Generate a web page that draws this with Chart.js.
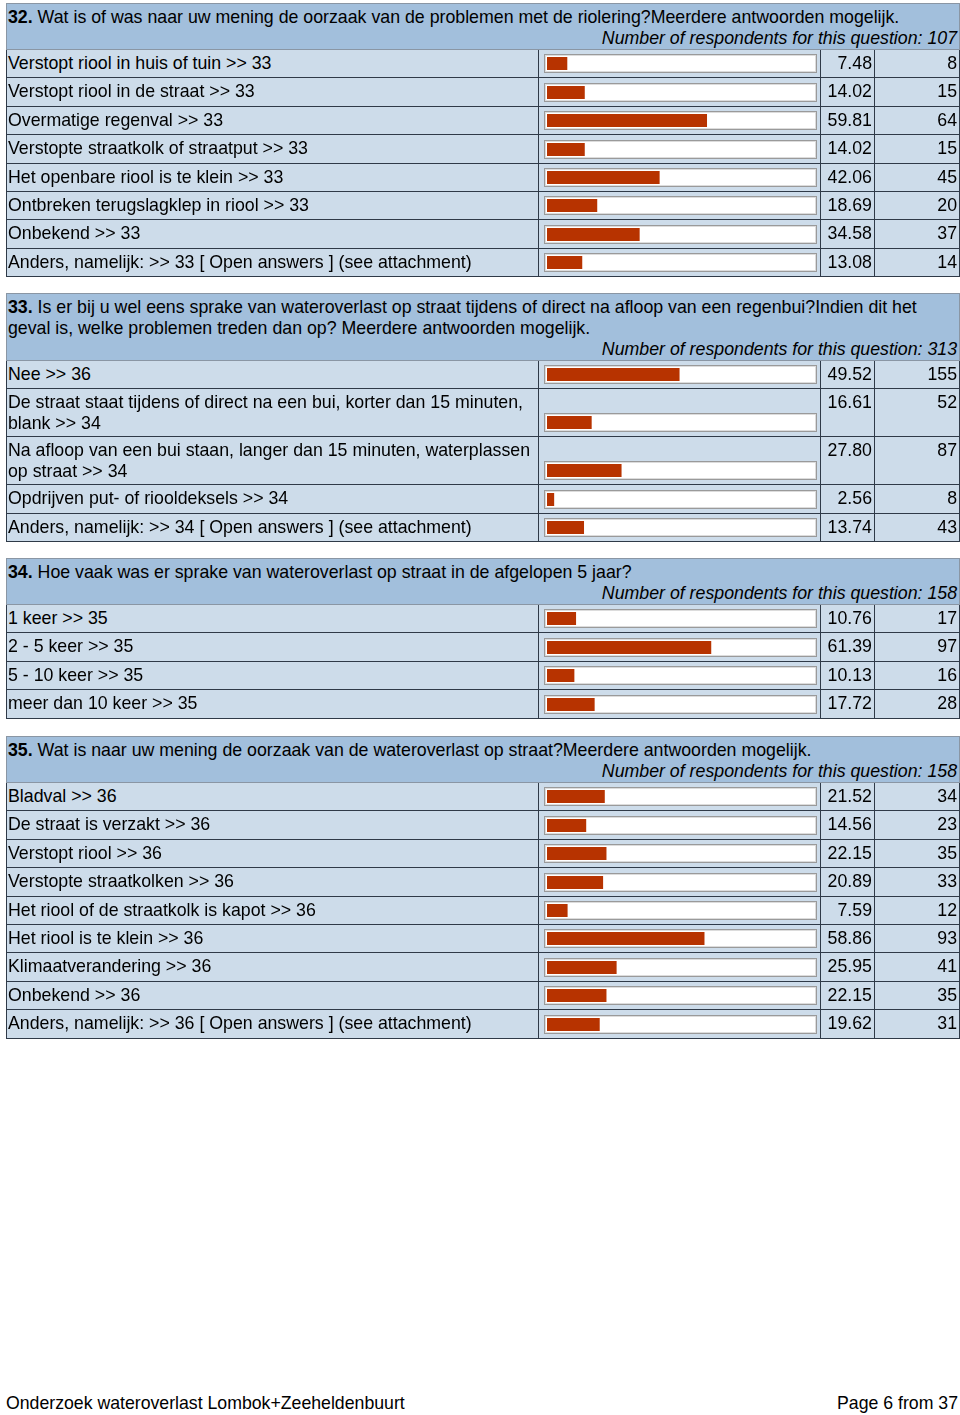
<!DOCTYPE html>
<html>
<head>
<meta charset="utf-8">
<script src="https://cdn.jsdelivr.net/npm/chart.js@4.4.1/dist/chart.umd.min.js"></script>
<style>
body{margin:0;width:960px;height:1415px;background:#fff;font-family:"Liberation Sans",Arial,sans-serif;font-size:17.75px;color:#000;position:relative;overflow:hidden}
table.q{position:absolute;left:6px;width:953px;border-collapse:collapse;table-layout:fixed}
table.q td{border:1px solid #2f3a48;padding:0 2px 0 1px;line-height:21px;vertical-align:top;background:#cddcea}
table.q td.head{background:#a2bfdc;padding:3px 2px 0 1px;border-color:#8a96a4}
.resp{text-align:right;font-style:italic}
td.lab{padding-top:3px !important}
td.num{text-align:right;padding-top:3px !important}
td.barc{vertical-align:bottom !important;padding:0 0 4px 5px !important}
.box{width:267px;height:13px;border:1px solid #9a9a9a;box-shadow:inset 0 0 0 1px #dcdcdc;padding:2px;background:#fff}
.foot{position:absolute;top:1393px;font-family:"Liberation Sans Narrow","Liberation Sans",Arial,sans-serif;font-size:17.7px}
</style>
</head>
<body>
<script>
// ====== data ======
const q32Title = "Wat is of was naar uw mening de oorzaak van de problemen met de riolering?Meerdere antwoorden mogelijk.";
const q32N = 107;
const q32Labels = ["Verstopt riool in huis of tuin >> 33","Verstopt riool in de straat >> 33","Overmatige regenval >> 33","Verstopte straatkolk of straatput >> 33","Het openbare riool is te klein >> 33","Ontbreken terugslagklep in riool >> 33","Onbekend >> 33","Anders, namelijk: >> 33 [ Open answers ] (see attachment)"];
const q32Pct = [7.48,14.02,59.81,14.02,42.06,18.69,34.58,13.08];
const q32Count = [8,15,64,15,45,20,37,14];

const q33Title = "Is er bij u wel eens sprake van wateroverlast op straat tijdens of direct na afloop van een regenbui?Indien dit het geval is, welke problemen treden dan op? Meerdere antwoorden mogelijk.";
const q33N = 313;
const q33Labels = ["Nee >> 36","De straat staat tijdens of direct na een bui, korter dan 15 minuten, blank >> 34","Na afloop van een bui staan, langer dan 15 minuten, waterplassen op straat >> 34","Opdrijven put- of riooldeksels >> 34","Anders, namelijk: >> 34 [ Open answers ] (see attachment)"];
const q33Pct = [49.52,16.61,27.80,2.56,13.74];
const q33Count = [155,52,87,8,43];

const q34Title = "Hoe vaak was er sprake van wateroverlast op straat in de afgelopen 5 jaar?";
const q34N = 158;
const q34Labels = ["1 keer >> 35","2 - 5 keer >> 35","5 - 10 keer >> 35","meer dan 10 keer >> 35"];
const q34Pct = [10.76,61.39,10.13,17.72];
const q34Count = [17,97,16,28];

const q35Title = "Wat is naar uw mening de oorzaak van de wateroverlast op straat?Meerdere antwoorden mogelijk.";
const q35N = 158;
const q35Labels = ["Bladval >> 36","De straat is verzakt >> 36","Verstopt riool >> 36","Verstopte straatkolken >> 36","Het riool of de straatkolk is kapot >> 36","Het riool is te klein >> 36","Klimaatverandering >> 36","Onbekend >> 36","Anders, namelijk: >> 36 [ Open answers ] (see attachment)"];
const q35Pct = [21.52,14.56,22.15,20.89,7.59,58.86,25.95,22.15,19.62];
const q35Count = [34,23,35,33,12,93,41,35,31];

// ====== build ======
function makeBar(canvas, value){
  new Chart(canvas, {
    type: "bar",
    data: { labels: [""], datasets: [{ data: [value], backgroundColor: "#b73300", barPercentage: 1, categoryPercentage: 1 }] },
    options: {
      indexAxis: "y",
      responsive: false,
      animation: false,
      layout: { padding: 0 },
      plugins: { legend: { display: false }, tooltip: { enabled: false } },
      scales: {
        x: { display: false, min: 0, max: 100 },
        y: { display: false }
      }
    }
  });
}

function addQuestion(top, num, title, n, labels, pct, count, tall){
  const t = document.createElement("table");
  t.className = "q";
  t.style.top = top + "px";
  t.innerHTML = '<colgroup><col style="width:532px"><col style="width:282px"><col style="width:54px"><col style="width:85px"></colgroup>';
  const h = t.insertRow();
  const hc = h.insertCell();
  hc.colSpan = 4;
  hc.className = "head";
  hc.innerHTML = "<b>" + num + ".</b> " + title + '<div class="resp">Number of respondents for this question: ' + n + "</div>";
  labels.forEach((lab, i) => {
    const r = t.insertRow();
    const c1 = r.insertCell(); c1.className = "lab"; c1.textContent = lab;
    c1.style.height = (tall && tall[i] ? 44 : 24.4) + "px";
    const c2 = r.insertCell(); c2.className = "barc";
    const box = document.createElement("div"); box.className = "box";
    const cv = document.createElement("canvas"); cv.width = 267; cv.height = 13;
    box.appendChild(cv); c2.appendChild(box);
    const c3 = r.insertCell(); c3.className = "num"; c3.textContent = pct[i].toFixed(2);
    const c4 = r.insertCell(); c4.className = "num"; c4.textContent = count[i];
    document.body.appendChild(t);
    makeBar(cv, pct[i]);
  });
}

addQuestion(3, 32, q32Title, q32N, q32Labels, q32Pct, q32Count);
addQuestion(293, 33, q33Title, q33N, q33Labels, q33Pct, q33Count, [0,1,1,0,0]);
addQuestion(558, 34, q34Title, q34N, q34Labels, q34Pct, q34Count);
addQuestion(736, 35, q35Title, q35N, q35Labels, q35Pct, q35Count);

const f1 = document.createElement("div"); f1.className = "foot"; f1.style.left = "6px";
f1.textContent = "Onderzoek wateroverlast Lombok+Zeeheldenbuurt";
const f2 = document.createElement("div"); f2.className = "foot"; f2.style.right = "2px";
f2.textContent = "Page 6 from 37";
document.body.appendChild(f1); document.body.appendChild(f2);
</script>
</body>
</html>
